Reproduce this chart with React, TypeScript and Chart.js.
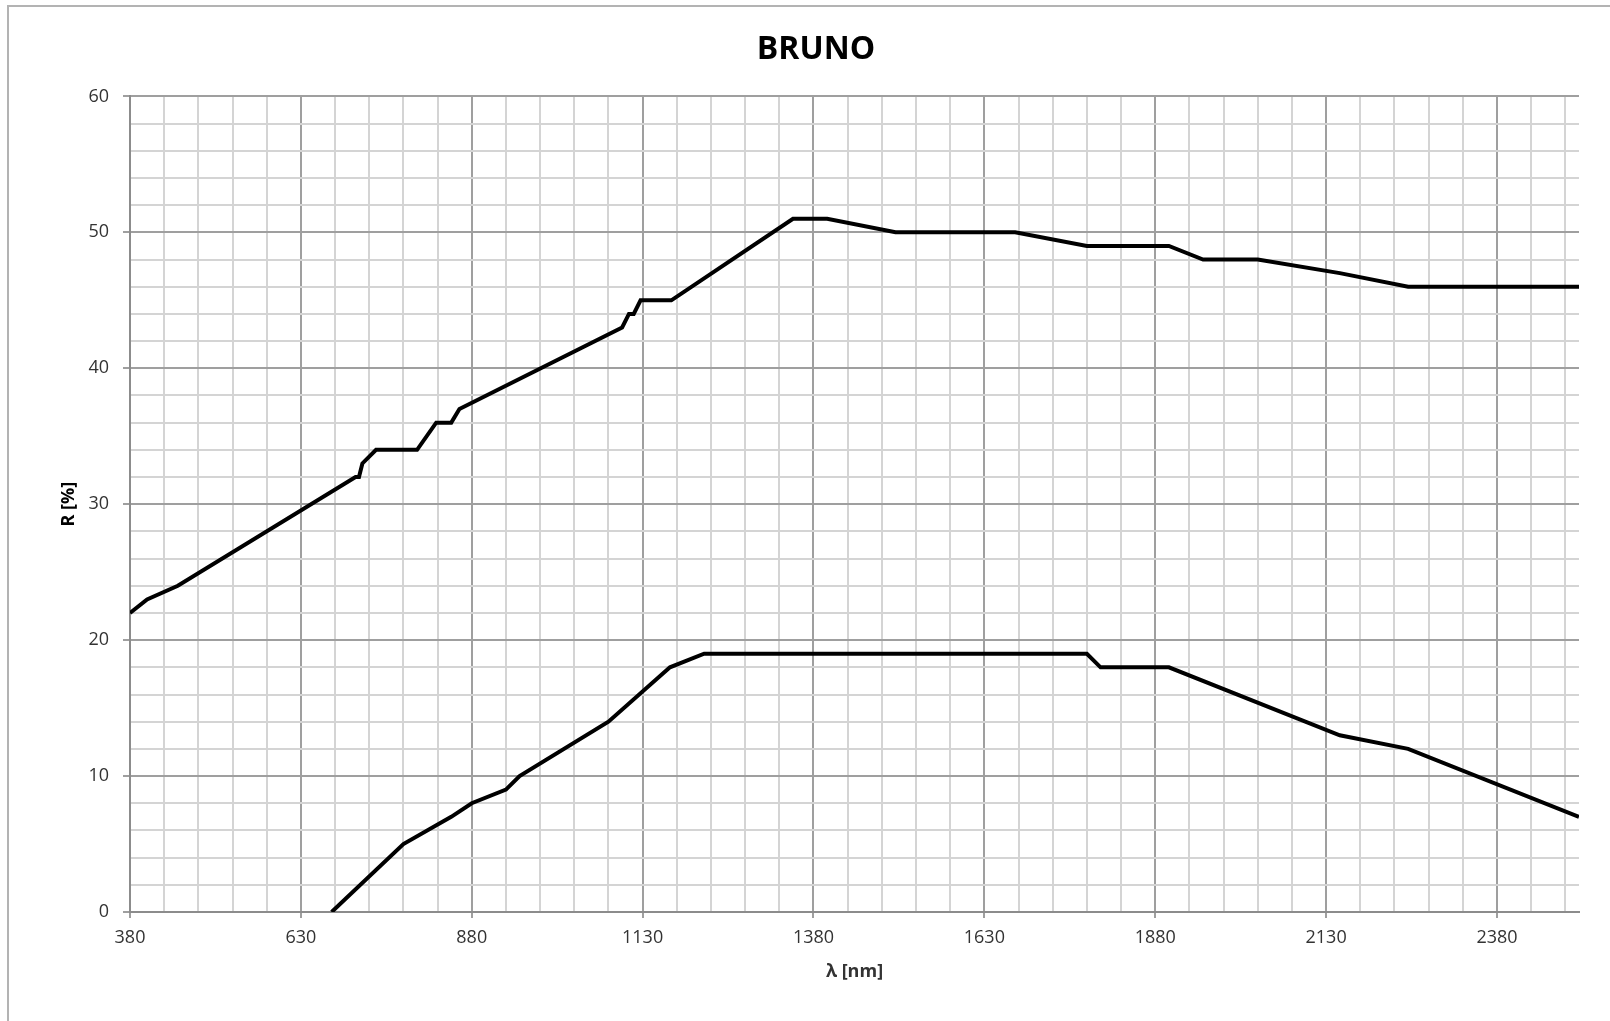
import React, { useEffect, useRef } from "react";
import { Chart, registerables } from "chart.js";

Chart.register(...registerables);

const TITLE = "BRUNO";
const X_TITLE = "λ [nm]";
const Y_TITLE = "R [%]";

const X_MIN = 380;
const X_MAX = 2500;
const X_GRID_STEP = 50;
const X_LABEL_STEP = 250;
const Y_MIN = 0;
const Y_MAX = 60;
const Y_GRID_STEP = 2;
const Y_LABEL_STEP = 10;

const upperWavelength = [380, 405, 450, 710, 715, 720, 740, 800, 828, 850, 862, 1100, 1110, 1117, 1127, 1172, 1350, 1400, 1500, 1675, 1780, 1900, 1950, 2030, 2150, 2250, 2500];
const upperReflectance = [22, 23, 24, 32, 32, 33, 34, 34, 36, 36, 37, 43, 44, 44, 45, 45, 51, 51, 50, 50, 49, 49, 48, 48, 47, 46, 46];

const lowerWavelength = [675, 780, 850, 880, 930, 950, 1080, 1170, 1220, 1780, 1800, 1900, 2150, 2250, 2500];
const lowerReflectance = [0, 5, 7, 8, 9, 10, 14, 18, 19, 19, 18, 18, 13, 12, 7];

function buildTicks(min: number, maxExclusive: number, step: number): number[] {
  const out: number[] = [];
  for (let v = min; v <= maxExclusive; v += step) out.push(v);
  return out;
}

const MINOR_COLOR = "#d4d4d4";
const MAJOR_COLOR = "#9f9f9f";
const AXIS_COLOR = "#8c8c8c";
const TEXT_COLOR = "#333333";

export default function App() {
  const ref = useRef<HTMLCanvasElement | null>(null);

  useEffect(() => {
    if (!ref.current) return;
    Chart.defaults.font.family = "'Open Sans', sans-serif";
    const xTicks = buildTicks(X_MIN, X_MAX - 1, X_GRID_STEP);
    const yTicks = buildTicks(Y_MIN, Y_MAX, Y_GRID_STEP);
    const isXMajor = (v: number) => (v - X_MIN) % X_LABEL_STEP === 0;
    const isYMajor = (v: number) => v % Y_LABEL_STEP === 0;

    const chart = new Chart(ref.current, {
      type: "line",
      data: {
        datasets: [
          {
            label: "upper",
            data: upperWavelength.map((x, i) => ({ x, y: upperReflectance[i] })),
            borderColor: "#000000",
            borderWidth: 4,
            pointRadius: 0,
            tension: 0,
            fill: false,
          },
          {
            label: "lower",
            data: lowerWavelength.map((x, i) => ({ x, y: lowerReflectance[i] })),
            borderColor: "#000000",
            borderWidth: 4,
            pointRadius: 0,
            tension: 0,
            fill: false,
          },
        ],
      },
      options: {
        animation: false,
        responsive: false,
        layout: { padding: { left: 53, right: 31, top: 6, bottom: 0 } },
        plugins: {
          legend: { display: false },
          tooltip: { enabled: false },
          title: {
            display: true,
            text: TITLE,
            color: "#000000",
            font: { size: 32, weight: "bold" },
            padding: { top: 25, bottom: 27 },
          },
        },
        scales: {
          x: {
            type: "linear",
            min: X_MIN,
            max: X_MAX,
            afterBuildTicks: (scale: any) => {
              scale.ticks = xTicks.map((v) => ({ value: v }));
            },
            afterFit: (scale: any) => {
              scale.height = 109;
            },
            ticks: {
              autoSkip: false,
              maxRotation: 0,
              minRotation: 0,
              padding: 9,
              color: TEXT_COLOR,
              font: { size: 18 },
              callback: (v: any) => (isXMajor(Number(v)) ? String(v) : ""),
            },
            grid: {
              color: (ctx: any) => (ctx.tick && isXMajor(ctx.tick.value) ? MAJOR_COLOR : MINOR_COLOR),
              lineWidth: 2,
              tickLength: 6,
              tickColor: (ctx: any) => (ctx.tick && isXMajor(ctx.tick.value) ? MAJOR_COLOR : "rgba(0,0,0,0)"),
            },
            border: { color: AXIS_COLOR, width: 2 },
            title: {
              display: true,
              text: X_TITLE,
              color: TEXT_COLOR,
              font: { size: 18, weight: "bold" },
              padding: { top: 0, bottom: 38 },
            },
          },
          y: {
            type: "linear",
            min: Y_MIN,
            max: Y_MAX,
            afterBuildTicks: (scale: any) => {
              scale.ticks = yTicks.map((v) => ({ value: v }));
            },
            afterFit: (scale: any) => {
              scale.width = 77;
            },
            ticks: {
              autoSkip: false,
              padding: 14,
              color: TEXT_COLOR,
              font: { size: 18 },
              callback: (v: any) => (isYMajor(Number(v)) ? String(v) : ""),
            },
            grid: {
              color: (ctx: any) => (ctx.tick && isYMajor(ctx.tick.value) ? MAJOR_COLOR : MINOR_COLOR),
              lineWidth: 2,
              tickLength: 7,
              tickColor: (ctx: any) => (ctx.tick && isYMajor(ctx.tick.value) ? MAJOR_COLOR : "rgba(0,0,0,0)"),
            },
            border: { color: AXIS_COLOR, width: 2 },
            title: {
              display: true,
              text: Y_TITLE,
              color: "#000000",
              font: { size: 18, weight: "bold" },
              padding: { top: 5, bottom: 0 },
            },
          },
        },
      },
    } as any);
    return () => chart.destroy();
  }, []);

  return (
    <div style={{ position: "absolute", left: 0, top: 0, width: 1610, height: 1021, overflow: "hidden", background: "#ffffff" }}>
      <div style={{ position: "absolute", left: 7, top: 5, width: 1640, height: 1060, border: "2px solid #b3b3b3", boxSizing: "border-box" }} />
      <canvas ref={ref} width={1610} height={1021} style={{ position: "absolute", left: 0, top: 0, width: 1610, height: 1021 }} />
    </div>
  );
}
